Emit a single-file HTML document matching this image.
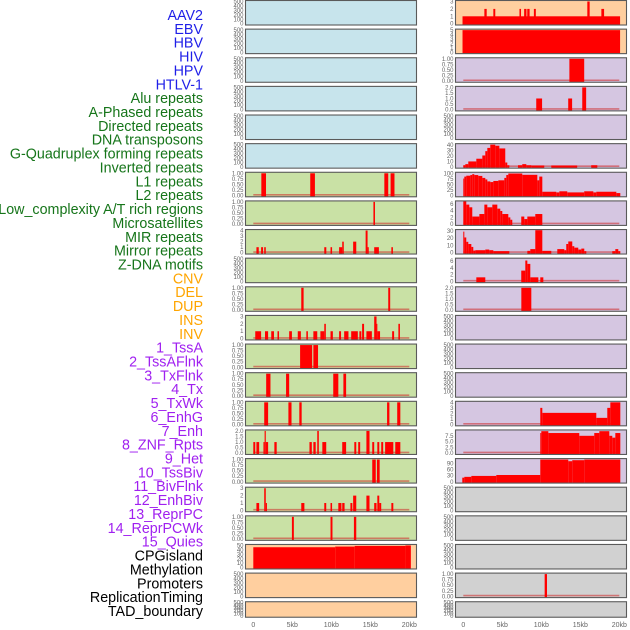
<!DOCTYPE html>
<html><head><meta charset="utf-8"><style>
html,body{margin:0;padding:0;background:#fff;}
svg{display:block;font-family:"Liberation Sans",sans-serif;}
</style></head><body>
<svg id="chart" width="630" height="630" viewBox="0 0 630 630" xmlns="http://www.w3.org/2000/svg"></svg>
<script>
// ---------- data ----------
const trackLabels = ["AAV2","EBV","HBV","HIV","HPV","HTLV-1","Alu repeats","A-Phased repeats","Directed repeats","DNA transposons","G-Quadruplex forming repeats","Inverted repeats","L1 repeats","L2 repeats","Low_complexity A/T rich regions","Microsatellites","MIR repeats","Mirror repeats","Z-DNA motifs","CNV","DEL","DUP","INS","INV","1_TssA","2_TssAFlnk","3_TxFlnk","4_Tx","5_TxWk","6_EnhG","7_Enh","8_ZNF_Rpts","9_Het","10_TssBiv","11_BivFlnk","12_EnhBiv","13_ReprPC","14_ReprPCWk","15_Quies","CPGisland","Methylation","Promoters","ReplicationTiming","TAD_boundary"];
const trackGroups = [6,13,5,15,5];
const xTickValues = [0,5,10,15,20];
const xTickLabels = ["0","5kb","10kb","15kb","20kb"];

const T500 = ["0","100","200","300","400","500"];
const T1 = ["0.00","0.25","0.50","0.75","1.00"];
const T2 = ["0.0","0.5","1.0","1.5","2.0"];
const T3 = ["0","1","2","3"];
const T4 = ["0","1","2","3","4"];
const T6 = ["0","2","4","6"];
const T50 = ["0","10","20","30","40","50"];

// left column bars: [startKb, endKb, value]
const L06 = [[1.03,1.63,1],[7.3,7.9,1],[16.8,17.3,1],[17.6,18.1,1]];
const L07 = [[15.4,15.6,1]];
const L08 = [[0.4,0.7,1],[1.0,1.25,1],[1.4,1.6,1],[9.1,9.36,1],[9.9,10.1,1],[11.0,11.4,1],[11.4,11.6,2],[12.8,13.2,2],[14.4,14.65,4],[14.65,14.8,1],[15.5,16.1,1],[17.7,17.9,1]];
const L10 = [[6.15,6.45,1],[17.3,17.55,1]];
const L11 = [[0.25,1.0,1],[1.5,1.9,1],[2.3,2.65,1],[3.1,3.3,1],[4.6,4.95,1],[5.7,6.1,1],[6.8,7.0,1],[7.7,8.2,1],[8.6,9.1,1],[9.1,9.3,2],[9.9,10.2,1],[11.0,11.25,1],[11.65,12.2,1],[12.55,13.4,1],[13.6,13.85,1],[13.95,14.2,2],[14.5,15.2,1],[15.5,15.8,3],[15.8,15.9,2],[15.9,16.25,1],[17.8,18.05,1],[18.6,18.8,2]];
const L12 = [[6.0,7.55,1],[7.7,8.3,1]];
const L13 = [[1.65,2.2,1],[4.2,4.6,1],[10.25,10.9,1],[11.55,11.9,1]];
const L14 = [[1.4,1.9,1],[4.5,4.9,1],[5.9,6.2,1],[17.15,17.45,1],[18.45,18.85,1]];
const L15 = [[0,0.25,1],[0.4,0.75,1],[1.3,1.45,1],[1.45,1.6,2],[1.6,1.9,1],[2.7,3.0,1],[7.2,7.5,1],[7.7,8.0,1],[8.2,8.4,2],[8.85,9.35,1],[11.4,11.9,1],[12.95,13.2,1],[13.45,13.7,1],[14.5,14.9,2],[15.25,15.5,1],[15.9,16.15,1],[16.4,16.65,1],[16.9,17.95,1],[18.2,18.85,1]];
const L16 = [[15.25,15.7,1],[15.85,16.2,1]];
const L17 = [[0.4,0.75,1],[1.4,1.6,3],[1.6,1.75,1],[6.15,6.55,1],[9.1,9.35,1],[9.9,10.1,1],[10.9,11.3,1],[11.4,11.7,1],[12.45,12.7,1],[12.8,13.2,2],[14.5,14.9,2],[15.5,15.8,1],[15.9,16.15,2],[16.15,16.4,1],[17.7,17.95,1]];
const L18 = [[4.95,5.2,1],[9.9,10.15,1],[12.9,13.2,1]];
const L19 = [[0,10.5,46],[10.5,13,47.5],[13,19.5,49],[19.5,20.2,50]];

// right column bars
const R00 = [[-0.1,20.1,1],[2.7,3.0,2],[3.85,4.1,2],[7.2,7.4,2],[7.8,8.1,2],[8.2,8.5,2],[9.05,9.3,2],[15.9,16.2,3],[17.7,18.05,2]];
const R01 = [[-0.1,20.1,5]];
const R02 = [[13.6,15.5,1]];
const R03 = [[9.35,10.1,1],[13.45,13.95,1],[15.25,15.75,2]];
const R05 = [[0,0.26,3],[0.26,0.64,5],[0.64,1.67,10],[1.67,2.44,15],[2.44,2.82,21],[2.82,3.08,29],[3.08,3.46,35],[3.46,4.1,41],[4.1,4.62,39],[4.62,5.38,34],[5.38,5.64,8],[5.64,5.9,3],[7.01,7.56,3],[7.56,8.08,5],[8.08,8.72,3],[8.72,10.38,2.5],[11.28,14.6,2.5],[16.4,17.18,3]];
const R06 = [[0,0.13,77],[0.13,0.38,86],[0.38,0.9,90],[0.9,1.15,93],[1.15,1.41,97],[1.41,1.92,93],[1.92,2.44,89],[2.44,2.82,80],[2.82,3.08,73],[3.08,3.46,64],[3.46,3.85,61],[3.85,4.49,66],[4.49,5.26,69],[5.26,5.51,80],[5.51,5.77,93],[5.77,7.56,100],[7.56,9.49,94],[9.49,9.74,69],[9.74,10.13,86],[10.13,11.92,17],[11.92,12.31,14],[12.31,13.33,19],[13.33,15.5,14],[15.5,16.67,19],[16.67,17.05,14],[17.05,19.62,17],[19.62,20.13,11]];
const R07 = [[0,0.38,7],[0.38,0.77,5.8],[0.77,1.15,5],[1.15,2.06,2.25],[2.06,2.7,3],[2.7,3.08,5.8],[3.08,3.72,5],[3.72,4.36,5.8],[4.36,4.74,4.6],[4.74,5.0,3.9],[5.0,5.77,3],[5.77,6.03,2],[6.03,6.28,1.3],[7.43,7.82,2.25],[7.82,8.21,1.5],[8.21,9.23,2.25],[9.23,10.13,3]];
const R08 = [[0,0.13,29],[0.13,0.38,21],[0.38,0.64,15],[0.64,1.03,12],[1.03,1.28,8],[1.28,1.54,3],[1.54,2.82,3.5],[2.82,3.33,4.4],[3.33,3.85,3.5],[3.85,5.9,2.2],[8.21,8.59,2.6],[8.59,9.23,5],[9.23,10.13,31],[10.13,11.28,2.6],[12.05,12.95,5],[12.95,13.2,3.5],[13.2,13.46,12],[13.46,13.97,15.5],[13.97,14.23,9],[14.23,14.74,7],[14.74,15.13,4.4],[15.13,15.51,5.7],[15.51,15.77,2.2],[19.1,19.49,2.2],[19.49,19.87,5],[19.87,20.13,2.2]];
const R09 = [[1.67,2.82,1.2],[7.43,7.95,3.2],[7.95,8.21,6.2],[8.21,8.59,5.2],[8.59,9.62,1.2],[9.87,10.26,1.2]];
const R10 = [[7.44,8.72,2]];
const R14 = [[9.87,10.13,3],[10.13,17.05,2.1],[17.05,18.46,1.2],[18.46,18.85,3],[18.85,20.13,4]];
const R15 = [[9.87,10.0,8.7],[10.0,10.9,9.5],[10.9,14.87,8.7],[14.87,16.79,7.5],[16.79,17.44,8.7],[17.44,18.72,9.5],[18.72,19.1,7.5],[19.1,19.49,6.7],[19.49,20.13,8.7]];
const R16 = [[-0.13,0.13,20],[0.13,1.03,24],[1.03,4.23,28.5],[4.23,9.87,33],[9.87,13.46,108],[13.46,13.97,100],[13.97,15.51,105],[15.51,20.13,108]];
const R20 = [[10.43,10.73,1]];

// panels: col, row, background, tick labels, axis max, bars, baseline
const panels = [
 {c:0,r:0,bg:"blue",t:T500,m:500,b:[]},{c:0,r:1,bg:"blue",t:T500,m:500,b:[]},{c:0,r:2,bg:"blue",t:T500,m:500,b:[]},
 {c:0,r:3,bg:"blue",t:T500,m:500,b:[]},{c:0,r:4,bg:"blue",t:T500,m:500,b:[]},{c:0,r:5,bg:"blue",t:T500,m:500,b:[]},
 {c:0,r:6,bg:"green",t:T1,m:1,b:L06,base:1},{c:0,r:7,bg:"green",t:T1,m:1,b:L07,base:1},
 {c:0,r:8,bg:"green",t:T4,m:4,b:L08,base:1},{c:0,r:9,bg:"green",t:T500,m:500,b:[]},
 {c:0,r:10,bg:"green",t:T1,m:1,b:L10,base:1},{c:0,r:11,bg:"green",t:T3,m:3,b:L11,base:1},
 {c:0,r:12,bg:"green",t:T1,m:1,b:L12,base:1},{c:0,r:13,bg:"green",t:T1,m:1,b:L13,base:1},
 {c:0,r:14,bg:"green",t:T1,m:1,b:L14,base:1},{c:0,r:15,bg:"green",t:T2,m:2,b:L15,base:1},
 {c:0,r:16,bg:"green",t:T1,m:1,b:L16,base:1},{c:0,r:17,bg:"green",t:T3,m:3,b:L17,base:1},
 {c:0,r:18,bg:"green",t:T1,m:1,b:L18,base:1},{c:0,r:19,bg:"orange",t:T50,m:50,b:L19},
 {c:0,r:20,bg:"orange",t:T500,m:500,b:[]},{c:0,r:21,bg:"orange",t:T500,m:500,b:[]},
 {c:1,r:0,bg:"orange",t:T3,m:3,b:R00},{c:1,r:1,bg:"orange",t:["0","1","2","3","4","5"],m:5,b:R01},
 {c:1,r:2,bg:"purple",t:T1,m:1,b:R02,base:1},{c:1,r:3,bg:"purple",t:T2,m:2,b:R03,base:1},
 {c:1,r:4,bg:"purple",t:T500,m:500,b:[]},{c:1,r:5,bg:"purple",t:["0","10","20","30","40"],m:41,b:R05,base:1},
 {c:1,r:6,bg:"purple",t:["0","25","50","75","100"],m:101,b:R06},{c:1,r:7,bg:"purple",t:T6,m:6.6,b:R07,base:1},
 {c:1,r:8,bg:"purple",t:["0","10","20","30"],m:30.5,b:R08,base:1},{c:1,r:9,bg:"purple",t:T6,m:6.6,b:R09,base:1},
 {c:1,r:10,bg:"purple",t:T2,m:2,b:R10,base:1},{c:1,r:11,bg:"purple",t:T500,m:500,b:[]},
 {c:1,r:12,bg:"purple",t:T500,m:500,b:[]},{c:1,r:13,bg:"purple",t:T500,m:500,b:[]},
 {c:1,r:14,bg:"purple",t:T4,m:4,b:R14,base:1},{c:1,r:15,bg:"purple",t:["0.0","2.5","5.0","7.5"],m:9.6,b:R15,base:1},
 {c:1,r:16,bg:"purple",t:["0","30","60","90"],m:108,b:R16},{c:1,r:17,bg:"grey",t:T500,m:500,b:[]},
 {c:1,r:18,bg:"grey",t:T500,m:500,b:[]},{c:1,r:19,bg:"grey",t:T500,m:500,b:[]},
 {c:1,r:20,bg:"grey",t:T1,m:1,b:R20,base:1},{c:1,r:21,bg:"grey",t:T500,m:500,b:[]}
];

// ---------- drawing ----------
const NS = "http://www.w3.org/2000/svg";
const svg = document.getElementById("chart");
const BG = {blue:"#c7e4ec",green:"#c9e1a5",orange:"#ffcf9f",purple:"#d5c6e1",grey:"#d1d1d1"};
const GROUP_COLORS = ["#1f1fe8","#16751a","#ffa500","#a020f0","#000000"];
const COLX = [245.5,455.5];
const PW = 171;
function rowTop(r){return 0.5 + r*28.63;}
function rowH(r){return r===21 ? 15.5 : 24.5;}
function xs(c,kb){return COLX[c] + 7.8 + kb*7.8;}
function ys(p,v){const t=rowTop(p.r), bot=t+rowH(p.r)-1.3, top=t+1; return bot-(v/p.m)*(bot-top);}
function mk(tag,attrs,parent){const e=document.createElementNS(NS,tag);for(const k in attrs)e.setAttribute(k,attrs[k]);(parent||svg).appendChild(e);return e;}

// labels
let gi=0, cnt=0;
trackLabels.forEach((lab,i)=>{
  const t = mk("text",{x:203,y:20+i*13.86,"text-anchor":"end","font-size":"14.3",fill:GROUP_COLORS[gi]});
  t.textContent = lab;
  
  
  cnt++; if(cnt>=trackGroups[gi]){gi++;cnt=0;}
});

const defs = mk("defs",{});
panels.forEach((p,pi)=>{
  const top=rowTop(p.r), h=rowH(p.r), x0=COLX[p.c];
  const g = mk("g",{});
  
  
  const cp = mk("clipPath",{id:"cp"+pi},defs);
  mk("rect",{x:x0,y:top,width:PW,height:h},cp);
  const bgR = mk("rect",{x:x0,y:top,width:PW,height:h,fill:BG[p.bg]},g);
  
  
  const inner = mk("g",{"clip-path":"url(#cp"+pi+")"},g);
  if(p.base){
    const bl = mk("line",{x1:xs(p.c,0),x2:xs(p.c,20),y1:top+h-2,y2:top+h-2,stroke:"rgba(205,40,40,0.55)","stroke-width":1.6},inner);
    
    
  }
  const bot = ys(p,0);
  p.b.forEach(d=>{
    const xa=xs(p.c,d[0]), xb=xs(p.c,d[1]), yv=ys(p,d[2]);
    const r = mk("rect",{x:xa,y:yv,width:Math.max(0.8,xb-xa),height:Math.max(0,bot-yv+1),fill:"#ff0000"},inner);
    
    
  });
  const fr = mk("rect",{x:x0,y:top,width:PW,height:h,fill:"none",stroke:"#5a5a5a","stroke-width":1.1},g);
  
  
  p.t.forEach((lab,k)=>{
    const v = parseFloat(lab);
    const y = ys(p,v);
    const tx = mk("text",{x:x0-2,y:y+2,"text-anchor":"end","font-size":"6",fill:"#666"},g);
    tx.textContent = lab;
    
    
  });
});

// x axis
[0,1].forEach(c=>{
  xTickValues.forEach((v,k)=>{
    const t = mk("text",{x:xs(c,v),y:627,"text-anchor":"middle","font-size":"7",fill:"#666"});
    t.textContent = xTickLabels[k];
    
    
  });
});
</script>
</body></html>
